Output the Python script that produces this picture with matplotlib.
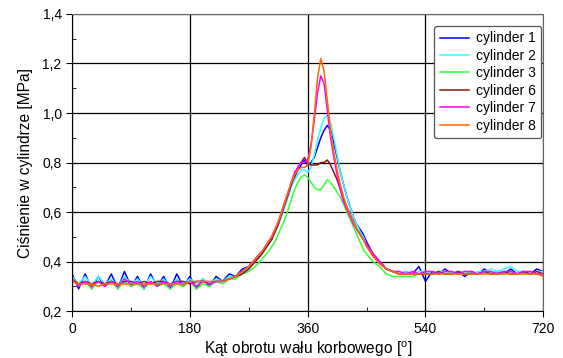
import matplotlib
matplotlib.use('Agg')
from matplotlib import pyplot as plt
from matplotlib.ticker import MultipleLocator, FuncFormatter

plt.rcParams['font.family'] = ['Liberation Sans', 'DejaVu Sans']
plt.rcParams['mathtext.fontset'] = 'custom'
plt.rcParams['mathtext.rm'] = 'Liberation Sans'

# crank angle [deg]
angle = (list(range(0, 301, 10)) + list(range(305, 451, 5))
         + list(range(460, 721, 10)))

cyl1 = [0.35, 0.29, 0.35, 0.29, 0.34, 0.30, 0.35, 0.29, 0.36, 0.30, 0.34, 0.29,
        0.35, 0.30, 0.34, 0.29, 0.35, 0.30, 0.34, 0.29, 0.33, 0.30, 0.34, 0.32,
        0.35, 0.34, 0.37, 0.38, 0.41, 0.44, 0.47,
        0.49, 0.52, 0.55, 0.59, 0.63, 0.67, 0.71, 0.74, 0.77, 0.79, 0.81, 0.79,
        0.80, 0.82, 0.86, 0.90, 0.93, 0.95, 0.93, 0.88, 0.82, 0.76, 0.71, 0.66,
        0.62, 0.58, 0.55, 0.53, 0.51, 0.48,
        0.43, 0.40, 0.37, 0.36, 0.35, 0.36, 0.35, 0.38, 0.32, 0.36, 0.35, 0.37,
        0.35, 0.36, 0.34, 0.36, 0.35, 0.37, 0.35, 0.36, 0.35, 0.37, 0.35, 0.36,
        0.35, 0.37, 0.36]
cyl2 = [0.34, 0.31, 0.34, 0.30, 0.34, 0.31, 0.33, 0.30, 0.34, 0.31, 0.33, 0.30,
        0.34, 0.31, 0.33, 0.30, 0.33, 0.31, 0.33, 0.31, 0.33, 0.31, 0.33, 0.32,
        0.34, 0.34, 0.36, 0.37, 0.40, 0.43, 0.47,
        0.49, 0.52, 0.55, 0.58, 0.62, 0.66, 0.70, 0.73, 0.75, 0.77, 0.77, 0.76,
        0.78, 0.83, 0.89, 0.94, 0.98, 0.99, 0.96, 0.90, 0.83, 0.76, 0.71, 0.66,
        0.62, 0.58, 0.55, 0.52, 0.50, 0.47,
        0.43, 0.40, 0.37, 0.36, 0.35, 0.36, 0.35, 0.36, 0.36, 0.35, 0.36, 0.36,
        0.35, 0.36, 0.36, 0.35, 0.36, 0.36, 0.37, 0.36, 0.37, 0.38, 0.36, 0.36,
        0.35, 0.36, 0.36]
cyl3 = [0.33, 0.30, 0.32, 0.29, 0.32, 0.30, 0.32, 0.29, 0.32, 0.30, 0.31, 0.29,
        0.32, 0.30, 0.31, 0.29, 0.31, 0.30, 0.32, 0.29, 0.31, 0.30, 0.32, 0.31,
        0.33, 0.33, 0.35, 0.36, 0.38, 0.41, 0.44,
        0.46, 0.48, 0.51, 0.54, 0.57, 0.61, 0.65, 0.69, 0.72, 0.74, 0.75, 0.74,
        0.72, 0.70, 0.69, 0.69, 0.71, 0.73, 0.72, 0.70, 0.68, 0.66, 0.63, 0.60,
        0.57, 0.54, 0.51, 0.48, 0.45, 0.43,
        0.40, 0.38, 0.35, 0.34, 0.34, 0.34, 0.34, 0.35, 0.35, 0.35, 0.36, 0.35,
        0.36, 0.35, 0.35, 0.36, 0.35, 0.35, 0.36, 0.35, 0.35, 0.36, 0.35, 0.35,
        0.35, 0.35, 0.35]
cyl6 = [0.33, 0.31, 0.32, 0.31, 0.32, 0.31, 0.32, 0.31, 0.32, 0.32, 0.31, 0.32,
        0.31, 0.32, 0.32, 0.31, 0.32, 0.32, 0.31, 0.32, 0.32, 0.31, 0.32, 0.32,
        0.33, 0.34, 0.35, 0.37, 0.40, 0.43, 0.47,
        0.49, 0.52, 0.55, 0.59, 0.63, 0.67, 0.71, 0.75, 0.78, 0.80, 0.82, 0.80,
        0.79, 0.79, 0.79, 0.80, 0.80, 0.81, 0.79, 0.76, 0.73, 0.69, 0.65, 0.62,
        0.59, 0.56, 0.53, 0.51, 0.49, 0.47,
        0.43, 0.40, 0.37, 0.36, 0.35, 0.35, 0.35, 0.35, 0.35, 0.35, 0.36, 0.35,
        0.35, 0.36, 0.35, 0.35, 0.35, 0.36, 0.35, 0.35, 0.36, 0.35, 0.35, 0.36,
        0.35, 0.36, 0.35]
cyl7 = [0.33, 0.30, 0.32, 0.30, 0.32, 0.30, 0.32, 0.30, 0.33, 0.31, 0.32, 0.30,
        0.32, 0.30, 0.32, 0.30, 0.32, 0.31, 0.32, 0.30, 0.32, 0.31, 0.32, 0.32,
        0.33, 0.34, 0.36, 0.38, 0.41, 0.44, 0.48,
        0.50, 0.53, 0.56, 0.60, 0.64, 0.68, 0.72, 0.76, 0.78, 0.80, 0.80, 0.81,
        0.87, 0.97, 1.08, 1.15, 1.12, 1.01, 0.90, 0.82, 0.75, 0.69, 0.64, 0.61,
        0.58, 0.55, 0.53, 0.51, 0.49, 0.47,
        0.43, 0.40, 0.37, 0.36, 0.36, 0.35, 0.36, 0.35, 0.36, 0.36, 0.35, 0.36,
        0.36, 0.35, 0.36, 0.36, 0.35, 0.36, 0.36, 0.35, 0.36, 0.36, 0.35, 0.36,
        0.36, 0.35, 0.35]
cyl8 = [0.32, 0.31, 0.31, 0.31, 0.30, 0.31, 0.31, 0.31, 0.31, 0.31, 0.31, 0.31,
        0.31, 0.31, 0.31, 0.31, 0.31, 0.31, 0.32, 0.32, 0.32, 0.32, 0.32, 0.32,
        0.33, 0.34, 0.36, 0.38, 0.41, 0.44, 0.48,
        0.50, 0.53, 0.56, 0.60, 0.64, 0.68, 0.72, 0.75, 0.77, 0.78, 0.78, 0.79,
        0.86, 0.99, 1.14, 1.22, 1.17, 1.05, 0.93, 0.84, 0.77, 0.71, 0.66, 0.62,
        0.59, 0.56, 0.53, 0.51, 0.49, 0.46,
        0.42, 0.39, 0.37, 0.36, 0.35, 0.35, 0.35, 0.35, 0.35, 0.35, 0.35, 0.35,
        0.35, 0.35, 0.35, 0.35, 0.35, 0.35, 0.35, 0.35, 0.35, 0.35, 0.35, 0.35,
        0.35, 0.35, 0.34]

series = [cyl1, cyl2, cyl3, cyl6, cyl7, cyl8]
labels = ['cylinder 1', 'cylinder 2', 'cylinder 3', 'cylinder 6',
          'cylinder 7', 'cylinder 8']
colors = ['#0000ff', '#33ffff', '#33ff33', '#8b1a1a', '#ff00ff', '#ff6600']

fig = plt.figure(figsize=(5.63, 3.58), dpi=100)
ax = fig.add_axes([0.128, 0.131, 0.837, 0.830])

for y, lab, c in zip(series, labels, colors):
    ax.plot(angle, y, color=c, lw=1.1, label=lab)

ax.set_xlim(0, 720)
ax.set_ylim(0.2, 1.4)
ax.xaxis.set_major_locator(MultipleLocator(180))
ax.xaxis.set_minor_locator(MultipleLocator(90))
ax.yaxis.set_major_locator(MultipleLocator(0.2))
ax.yaxis.set_minor_locator(MultipleLocator(0.1))
ax.yaxis.set_major_formatter(FuncFormatter(lambda v, p: ('%.1f' % v).replace('.', ',')))
ax.grid(True, which='major', color='black', lw=0.9)
ax.tick_params(which='major', direction='out', length=4, labelsize=10)
ax.tick_params(which='minor', direction='in', length=3)
for s in ['top', 'right']:
    ax.spines[s].set_color('#666666')

ax.set_xlabel(r'Kąt obrotu wału korbowego [$^{\rm o}$]', fontsize=11.2, labelpad=3)
ax.set_ylabel('Ciśnienie w cylindrze [MPa]', fontsize=11.2, labelpad=7)

leg = ax.legend(loc='upper right', bbox_to_anchor=(0.996, 0.96), borderaxespad=0,
                fontsize=10, handlelength=2.1, labelspacing=0.25,
                handletextpad=0.5, fancybox=True, framealpha=1,
                edgecolor='#555555')
leg.get_frame().set_linewidth(0.9)

fig.savefig('out.png', dpi=100)
